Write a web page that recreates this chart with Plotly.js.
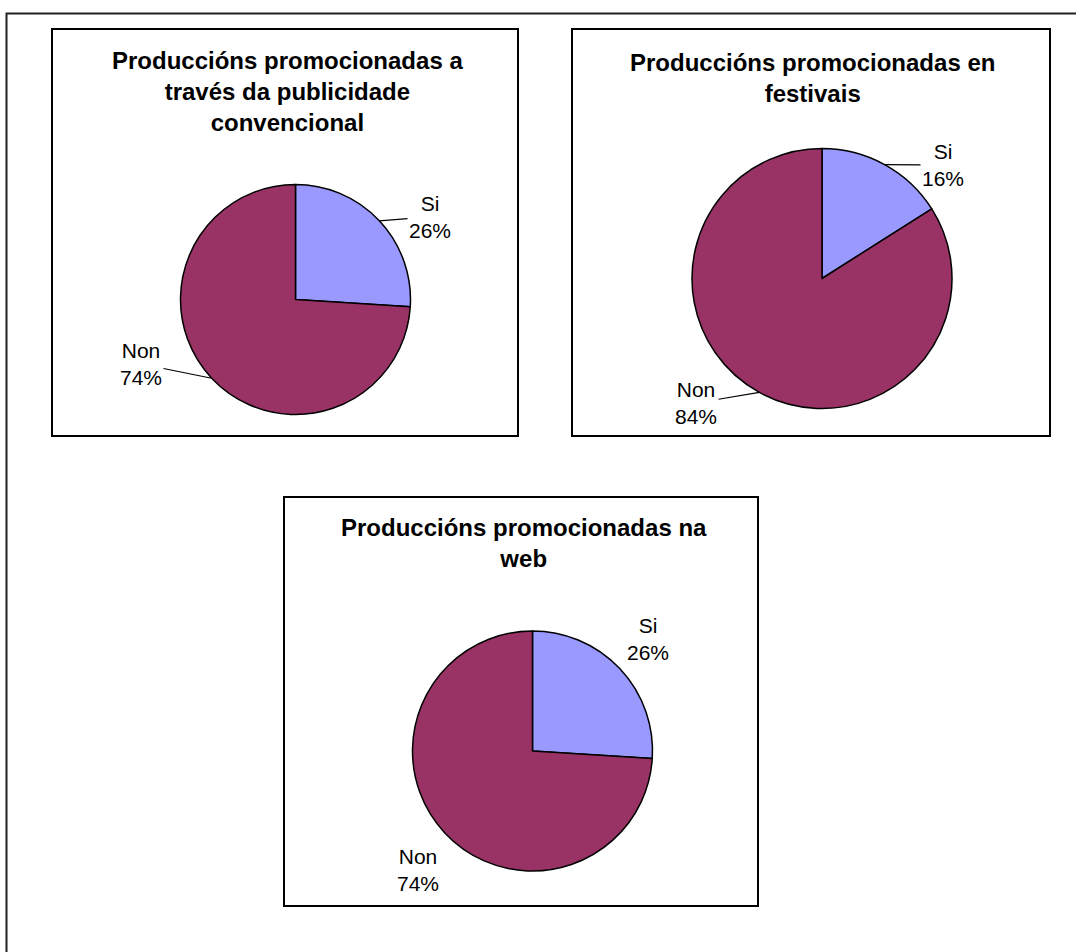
<!DOCTYPE html>
<html>
<head>
<meta charset="utf-8">
<script src="https://cdn.plot.ly/plotly-3.0.1.min.js"></script>
<style>
  html, body { margin: 0; padding: 0; background: #ffffff; }
  #chart { width: 1076px; height: 952px; }
</style>
</head>
<body>
<div id="chart"></div>
<script>
// Answers per question (percent of productions)
const categories = ['Si', 'Non'];
const valuesPublicidade = [26, 74];
const valuesFestivais = [16, 84];
const valuesWeb = [26, 74];
const chartTitles = [
  'Produccións promocionadas a<br>través da publicidade<br>convencional',
  'Produccións promocionadas en<br>festivais',
  'Produccións promocionadas na<br>web'
];
const sliceColors = ['#9999FF', '#993366'];

const W = 1076, H = 952;
const FONT = 'Liberation Sans, Arial, Helvetica, sans-serif';

// Page geometry (pixels): frame box, pie centre/radius, title centre,
// label centres and whether leader lines are drawn.
const panels = [
  { values: valuesPublicidade, title: chartTitles[0],
    box: [52, 29, 518, 436], cx: 295.5, cy: 299.5, r: 115,
    titleX: 287, titleY: 92,
    labelPos: [[430, 217], [141, 364]], leaders: true },
  { values: valuesFestivais, title: chartTitles[1],
    box: [572, 29, 1050, 436], cx: 822, cy: 278.5, r: 130,
    titleX: 812, titleY: 77.5,
    labelPos: [[943, 165], [696, 403]], leaders: true },
  { values: valuesWeb, title: chartTitles[2],
    box: [284, 497, 758, 906], cx: 532.5, cy: 751, r: 120,
    titleX: 524, titleY: 542.5,
    labelPos: [[648, 639], [418, 870]], leaders: false }
];

const px = x => x / W;
const py = y => 1 - y / H;

const traces = [];
const annotations = [];
const shapes = [];

// outer frame (left and top edges visible)
shapes.push({
  type: 'path', xref: 'paper', yref: 'paper',
  path: `M ${px(6.5)} ${py(960)} L ${px(6.5)} ${py(13.5)} L ${px(1080)} ${py(13.5)}`,
  line: { color: '#202020', width: 2 }
});

panels.forEach(p => {
  traces.push({
    type: 'pie',
    values: p.values,
    labels: categories,
    sort: false,
    direction: 'clockwise',
    rotation: 0,
    textinfo: 'none',
    hoverinfo: 'label+percent',
    showlegend: false,
    marker: { colors: sliceColors, line: { color: '#000000', width: 1.5 } },
    domain: {
      x: [px(p.cx - p.r), px(p.cx + p.r)],
      y: [py(p.cy + p.r), py(p.cy - p.r)]
    }
  });

  shapes.push({
    type: 'rect', xref: 'paper', yref: 'paper',
    x0: px(p.box[0]), x1: px(p.box[2]), y0: py(p.box[3]), y1: py(p.box[1]),
    line: { color: '#000000', width: 2 }, fillcolor: 'rgba(0,0,0,0)'
  });

  annotations.push({
    xref: 'paper', yref: 'paper', x: px(p.titleX), y: py(p.titleY),
    xanchor: 'center', yanchor: 'middle', showarrow: false,
    text: '<b>' + p.title + '</b>',
    font: { family: FONT, size: 24, color: '#000000' }
  });

  // slice labels with leader lines from the middle of each slice's arc
  const total = p.values.reduce((a, b) => a + b, 0);
  let cum = 0;
  p.values.forEach((v, i) => {
    const theta = 2 * Math.PI * (cum + v / 2) / total;
    cum += v;
    const tx = p.cx + p.r * Math.sin(theta);
    const ty = p.cy - p.r * Math.cos(theta);
    const [lx, ly] = p.labelPos[i];
    const pct = Math.round(v / total * 100);
    const ann = {
      xref: 'paper', yref: 'paper', x: px(tx), y: py(ty),
      text: categories[i] + '<br>' + pct + '%',
      font: { family: FONT, size: 21, color: '#000000' },
      align: 'center'
    };
    if (p.leaders) {
      Object.assign(ann, {
        showarrow: true, arrowhead: 0, arrowwidth: 1.2, arrowcolor: '#000000',
        standoff: 0, startstandoff: 0, ax: lx - tx, ay: ly - ty
      });
    } else {
      Object.assign(ann, {
        showarrow: false, xanchor: 'center', yanchor: 'middle',
        xshift: lx - tx, yshift: ty - ly
      });
    }
    annotations.push(ann);
  });
});

const layout = {
  width: W, height: H,
  margin: { l: 0, r: 0, t: 0, b: 0 },
  paper_bgcolor: '#ffffff',
  plot_bgcolor: '#ffffff',
  font: { family: FONT, color: '#000000' },
  shapes: shapes,
  annotations: annotations,
  showlegend: false
};

Plotly.newPlot('chart', traces, layout, { displayModeBar: false, staticPlot: true });
</script>
</body>
</html>
